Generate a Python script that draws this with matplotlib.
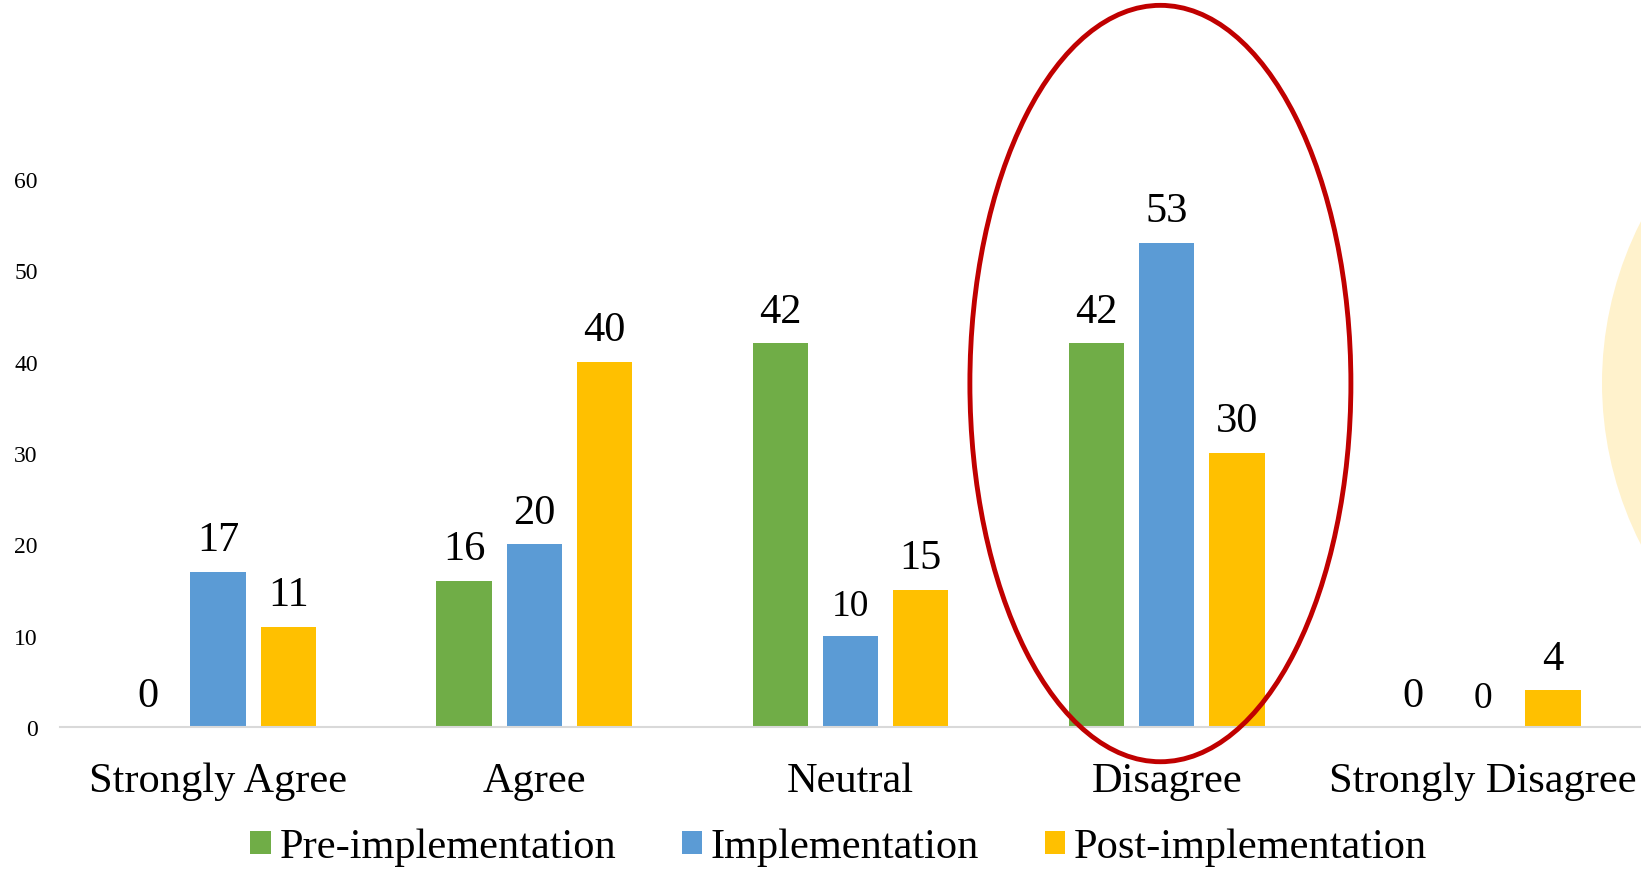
import numpy as np
import matplotlib.pyplot as plt
from matplotlib.patches import Ellipse
from matplotlib.transforms import IdentityTransform

plt.rcParams['font.family'] = ['Liberation Serif', 'DejaVu Serif']

categories = ['Strongly Agree', 'Agree', 'Neutral', 'Disagree', 'Strongly Disagree']
pre_impl = [0, 16, 42, 42, 0]
impl = [17, 20, 10, 53, 0]
post_impl = [11, 40, 15, 30, 4]
series_names = ['Pre-implementation', 'Implementation', 'Post-implementation']

colors = ['#70AD47', '#5B9BD5', '#FFC000']
# labels that got squeezed to a smaller size
small_labels = {(1, 2), (1, 4)}

fig = plt.figure(figsize=(16.41, 8.70), dpi=100)
ax = fig.add_axes([0.0366, 0.1632, 0.9634, 0.630])

x = np.arange(len(categories))
width = 0.175
step = 0.222
for i, (vals, col, name) in enumerate(zip([pre_impl, impl, post_impl], colors, series_names)):
    pos = x + (i - 1) * step
    ax.bar(pos, vals, width, color=col, label=name, zorder=2)
    for j, v in enumerate(vals):
        fs = 27 if (i, j) in small_labels else 30.5
        ax.annotate(str(v), (pos[j], v), xytext=(0, 9), textcoords='offset points',
                    ha='center', va='bottom', fontsize=fs, clip_on=False)

ax.set_xlim(-0.5, 4.5)
ax.set_ylim(0, 60)
ax.set_yticks(range(0, 61, 10))
ax.set_xticks(x)
ax.set_xticklabels(categories, fontsize=30.5)
ax.tick_params(axis='y', length=0, pad=16, labelsize=17)
ax.tick_params(axis='x', length=0, pad=25)
for s in ['top', 'right', 'left']:
    ax.spines[s].set_visible(False)
ax.spines['bottom'].set_color('#D9D9D9')
ax.spines['bottom'].set_linewidth(1.5)

# highlight around the Disagree group
ax.add_patch(Ellipse((2.98, 37.6), 1.205, 82.8, fill=False, edgecolor='#C00000',
                     linewidth=3.5, clip_on=False, zorder=5))

# pale shape poking in at the right edge (pixel coordinates)
fig.patches.append(Ellipse((2002, 870 - 384), 800, 752, facecolor='#FFF2CC',
                           edgecolor='none', transform=IdentityTransform(), zorder=0))

ax.legend(loc='center', bbox_to_anchor=(0.511, 0.025), bbox_transform=fig.transFigure,
          ncol=3, frameon=False, fontsize=30.5, handlelength=0.48, handleheight=0.48,
          handletextpad=0.2, columnspacing=1.55, borderpad=0)

fig.savefig('out.png', dpi=100)
